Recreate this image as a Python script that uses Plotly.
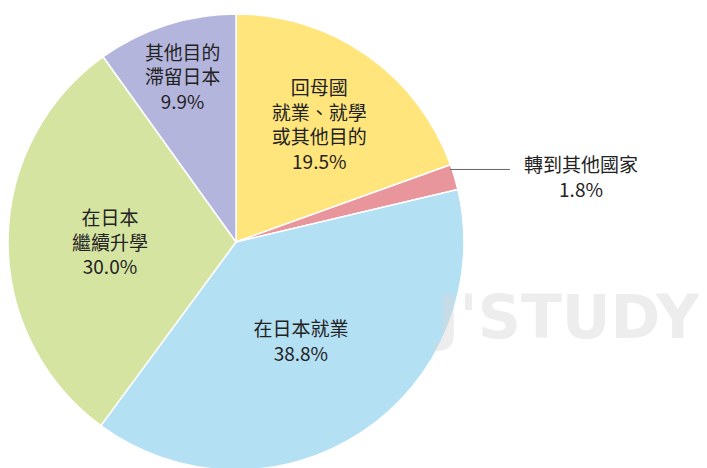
import plotly.graph_objects as go

labels = ["回母國就業、就學或其他目的", "轉到其他國家", "在日本就業", "在日本繼續升學", "其他目的滯留日本"]
values = [19.5, 1.8, 38.8, 30.0, 9.9]
texts = ["回母國<br>就業、就學<br>或其他目的<br>19.5%", "", "在日本就業<br>38.8%", "在日本<br>繼續升學<br>30.0%", "其他目的<br>滯留日本<br>9.9%"]
colors = ["#FFE57C", "#E8959C", "#B4E0F4", "#D6E4A2", "#B4B5DD"]

fig = go.Figure(go.Pie(
    labels=labels, values=values, text=texts, textinfo="text",
    sort=False, direction="clockwise", rotation=0,
    marker=dict(colors=colors, line=dict(color="white", width=1.5)),
    textposition="inside", insidetextorientation="horizontal",
    textfont=dict(size=19, color="#222", family="Noto Sans CJK TC"),
    domain=dict(x=[0, 0.645], y=[0, 1]), showlegend=False, hoverinfo="skip"))

fig.add_annotation(text="<b>J'STUDY</b>", xref="paper", yref="paper", x=0.79, y=0.34,
                   xanchor="center", yanchor="middle",
                   showarrow=False, font=dict(size=60, color="rgba(215,215,215,0.45)", family="DejaVu Sans"))
fig.add_shape(type="line", xref="paper", yref="paper", x0=0.625, y0=0.655, x1=0.71, y1=0.655,
              line=dict(color="#666", width=1))
fig.add_annotation(text="轉到其他國家<br>1.8%", xref="paper", yref="paper", x=0.81, y=0.64,
                   xanchor="center", yanchor="middle",
                   showarrow=False, font=dict(size=19, color="#222", family="Noto Sans CJK TC"),
                   align="center")

fig.update_layout(width=707, height=468, margin=dict(l=0, r=0, t=0, b=0),
                  paper_bgcolor="white", plot_bgcolor="white")
fig.write_html("out.html")
